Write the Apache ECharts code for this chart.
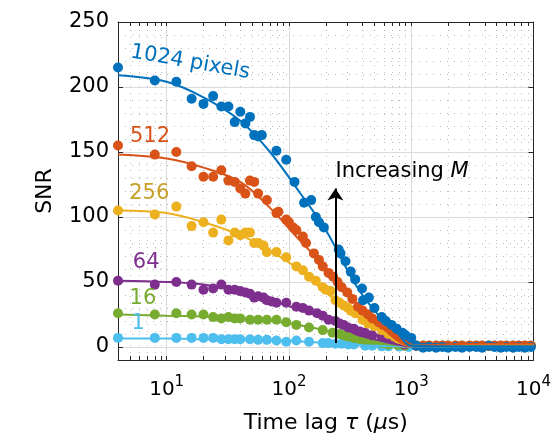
<!DOCTYPE html>
<html>
<head>
<meta charset="utf-8">
<script src="https://cdn.jsdelivr.net/npm/echarts@6/dist/echarts.min.js"></script>
<style>
html, body { margin: 0; padding: 0; background: #fff; }
#main { width: 554px; height: 443px; }
</style>
</head>
<body>
<div id="main"></div>
<script>
// tick / grid values
var xMajor = [10, 100, 1000, 10000];
var xMinor = [5, 6, 7, 8, 9, 20, 30, 40, 50, 60, 70, 80, 90, 200, 300, 400, 500, 600, 700, 800, 900,
	2000, 3000, 4000, 5000, 6000, 7000, 8000, 9000];
var yMajor = [0, 50, 100, 150, 200, 250];
var yMinor = [10, 20, 30, 40, 60, 70, 80, 90, 110, 120, 130, 140, 160, 170, 180, 190, 210, 220, 230, 240];

// measured points [tau (us), SNR]
var pts1024 = [[4,215],[8,205],[12,204],[16,191],[20,187],[24,193],[28,185],[32,185],[36,173],[40,181],
	[44,172],[48,177],[52,163],[56,162],[60,163],[79,151],[95,144],[111,127],[133,111],[152,113],[166,100],
	[176,96],[193,92],[255,75],[264,72],[290,66],[320,58],[348,52],[396,45],[404,36],[450,38],[500,30],
	[574,23],[620,20],[690,17],[760,14],[847,11],[900,9],[1000,7]];
var pts512 = [[4,155],[8,148],[12,150],[16,139],[20,131],[24,131],[28,136],[32,128],[36,127],[40,122],
	[44,118],[48,128],[52,127],[56,118],[66,113],[79,103],[82,104],[95,98],[100,96],[108,92],[115,90],
	[130,85],[138,80],[160,72],[176,67],[189,62],[211,57],[230,54],[250,50],[270,46],[300,42],[330,37],
	[367,31],[400,28],[444,25],[480,22],[540,19],[590,17],[640,15],[700,12],[773,8],[850,6],[930,3]];
var pts256 = [[4,105],[8,102],[12,108],[16,93],[20,96],[24,88],[28,98],[32,82],[36,88],[40,86],[44,88],
	[48,88],[52,80],[56,80],[62,78],[66,73],[79,73],[95,69],[115,62],[130,59],[146,54],[166,51],[189,46],
	[200,44],[219,43],[240,36],[260,34],[280,32],[305,30],[320,28],[348,26],[400,21],[444,18],[500,16],
	[574,13],[650,10],[732,8],[800,5],[881,3]];
var pts64 = [[4,51],[8,48],[12,50],[16,48],[20,44],[24,45],[28,48],[32,44],[36,44],[40,43],[44,42],
	[48,41],[52,38],[56,39],[62,38],[66,36],[72,35],[79,34],[95,34],[115,31],[130,30],[146,28],[170,26],
	[189,24],[211,21],[240,20],[260,18],[280,17],[305,15],[340,14],[380,12],[420,11],[480,9],[574,8],
	[650,6],[773,4],[880,2]];
var pts16 = [[4,26],[8,25],[12,26],[16,25],[20,25],[24,23],[28,22],[32,23],[36,22],[40,22],[48,21],
	[56,21],[66,21],[79,21],[95,19],[115,17],[146,15],[189,13],[227,11],[260,10],[280,9],[305,8],
	[340,7],[380,6],[420,5],[480,4],[574,3],[650,2],[773,1.5],[880,1]];
var pts1 = [[4,7],[8,7],[12,7],[16,7],[20,7],[24,7],[28,6],[32,6],[36,6],[40,6],[48,6],[56,5.5],
	[66,5.5],[79,5],[95,4],[115,5],[146,4],[189,3],[210,3],[240,2.5],[270,2.5],[305,2],[340,2],
	[420,1],[480,1],[574,0.5],[650,0.5],[800,0.3],[950,0]];

// flat tail beyond 1 ms
var tailTau = [1100, 1250, 1400, 1600, 1800, 2000, 2300, 2600, 3000, 3400, 3800, 4300, 4800, 5400,
	6000, 6800, 7600, 8500, 9500];
var tail1024 = [1, -0.5, 0, -0.5, 0, -0.5, 0, -0.5, 0, 0, -0.5, 1, 0, -0.5, 0, -0.5, 0, -0.5, 0];
var tailOther = [1, 1, 1, 1, 1, 1, 1, 1, 1, 1, 1, 1, 1, 1, 1, 1, 1, 1, 1];

// fitted curves
var fitTau = [4, 10, 20, 40, 70, 120, 200, 350, 500, 770, 1000, 3000, 10000];
var fit1024 = [209, 204, 192, 174, 150, 120, 90, 48, 28, 11, 1, 0.5, 0.5];
var fit512 = [148, 145, 138, 127, 107, 83, 61, 34, 21, 5, 1, 2.5, 2.5];
var fit256 = [105, 103, 96, 86, 74, 60, 42, 24, 15, 4, 1, 1.5, 1.5];
var fit64 = [51, 50, 48, 43, 36, 29, 22, 10, 6, 2, 0.5, 1, 1];
var fit16 = [25, 24, 23.5, 22, 20, 17, 12.5, 5, 3, 1.5, 0.5, 0.8, 0.8];
var fit1 = [6.5, 6.5, 6, 5.5, 5, 4.5, 3, 1.5, 1, 0.5, 0.3, 0.5, 0.5];

var groups = [
	{ name: '1', pts: pts1, tail: tailOther, fit: fit1, color: '#4DBEEE', lab: [5.85, 18] },
	{ name: '16', pts: pts16, tail: tailOther, fit: fit16, color: '#77AC30', lab: [6.4, 37] },
	{ name: '64', pts: pts64, tail: tailOther, fit: fit64, color: '#7E2F8E', lab: [6.8, 65] },
	{ name: '256', pts: pts256, tail: tailOther, fit: fit256, color: '#EDB120', labColor: '#C9A02A', lab: [7.2, 118] },
	{ name: '512', pts: pts512, tail: tailOther, fit: fit512, color: '#D95319', lab: [7.3, 162] },
	{ name: '1024 pixels', pts: pts1024, tail: tail1024, fit: fit1024, color: '#0072BD', lab: [15.6, 219], rot: -10 }
];

var font = 'DejaVu Sans, Verdana, sans-serif';
var ink = '#262626';

var gridLines = [];
xMajor.forEach(function (v) { gridLines.push({ xAxis: v, lineStyle: { color: '#dadada', type: 'solid' } }); });
xMinor.forEach(function (v) { gridLines.push({ xAxis: v, lineStyle: { color: '#bdbdbd', type: [1, 6] } }); });
yMajor.forEach(function (v) { gridLines.push({ yAxis: v, lineStyle: { color: '#dadada', type: 'solid' } }); });
yMinor.forEach(function (v) { gridLines.push({ yAxis: v, lineStyle: { color: '#bdbdbd', type: [1, 6] } }); });

var series = [{
	type: 'line', data: [], silent: true,
	markLine: { silent: true, symbol: 'none', z: 0, label: { show: false }, lineStyle: { width: 1 }, data: gridLines, animation: false }
}];

groups.forEach(function (g) {
	var data = g.pts.concat(tailTau.map(function (t, i) { return [t, g.tail[i]]; }));
	series.push({
		name: g.name, type: 'scatter', symbol: 'circle', symbolSize: 10, data: data,
		itemStyle: { color: g.color, opacity: 1 },
		markPoint: {
			symbol: 'circle', symbolSize: 0, silent: true,
			data: [{ coord: g.lab, name: g.name }],
			label: { show: true, position: 'inside', formatter: '{b}', color: g.labColor || g.color, fontSize: 21, fontFamily: font, rotate: g.rot || 0 }
		}
	});
	series.push({
		type: 'line', smooth: 0.35, showSymbol: false, silent: true,
		data: fitTau.map(function (t, i) { return [t, g.fit[i]]; }),
		lineStyle: { color: g.color, width: 2 }
	});
});

// arrow "Increasing M"
var arrowTau = 240;
series.push({
	type: 'line', data: [], silent: true, z: 10,
	markLine: {
		silent: true, z: 10, symbol: ['none', 'arrow'], symbolSize: 12, animation: false,
		lineStyle: { color: '#000', width: 2, type: 'solid' }, label: { show: false },
		data: [[{ coord: [arrowTau, 3] }, { coord: [arrowTau, 122] }]]
	},
	markPoint: {
		symbol: 'circle', symbolSize: 0, silent: true, z: 10,
		data: [{ coord: [arrowTau, 135], name: 'Increasing' }],
		label: {
			show: true, position: 'right', distance: 0, formatter: '{n|Increasing }{i|M}',
			rich: {
				n: { fontSize: 21, fontFamily: font, color: '#000' },
				i: { fontSize: 21, fontFamily: font, color: '#000', fontStyle: 'italic' }
			}
		}
	}
});

var chart = echarts.init(document.getElementById('main'));
chart.setOption({
	backgroundColor: '#fff',
	animation: false,
	grid: { left: 118, right: 14, top: 22, bottom: 83, containLabel: false },
	xAxis: [{
		type: 'log', logBase: 10, min: 4, max: 10000, position: 'bottom',
		axisLine: { show: true, onZero: false, lineStyle: { color: ink, width: 1 } },
		axisTick: { show: true, inside: true, length: 4, customValues: xMajor.concat(xMinor), lineStyle: { color: ink } },
		axisLabel: {
			customValues: xMajor, margin: 15,
			formatter: function (v) { return '{b|10}{s|' + Math.round(Math.log10(v)) + '}'; },
			rich: {
				b: { fontSize: 20, fontFamily: font, color: '#000', lineHeight: 30 },
				s: { fontSize: 15, fontFamily: font, color: '#000', verticalAlign: 'top', lineHeight: 15 }
			}
		},
		splitLine: { show: false }, minorTick: { show: false },
		name: '{n|Time lag }{i|τ}{n| (}{i|μ}{n|s)}', nameLocation: 'middle', nameGap: 52,
		nameTextStyle: {
			rich: {
				n: { fontSize: 22, fontFamily: font, color: '#000' },
				i: { fontSize: 22, fontFamily: font, color: '#000', fontStyle: 'italic' }
			}
		}
	}, {
		type: 'log', logBase: 10, min: 4, max: 10000, position: 'top',
		axisLine: { show: true, onZero: false, lineStyle: { color: ink, width: 1 } },
		axisTick: { show: true, inside: true, length: 4, customValues: xMajor.concat(xMinor), lineStyle: { color: ink } },
		axisLabel: { show: false }, splitLine: { show: false }
	}],
	yAxis: [{
		type: 'value', min: -10, max: 250, position: 'left',
		axisLine: { show: true, onZero: false, lineStyle: { color: ink, width: 1 } },
		axisTick: { show: true, inside: true, length: 5, customValues: yMajor, lineStyle: { color: ink } },
		axisLabel: { customValues: yMajor, margin: 9, fontSize: 21, fontFamily: font, color: '#000' },
		splitLine: { show: false },
		name: 'SNR', nameLocation: 'middle', nameGap: 62, nameRotate: 90,
		nameTextStyle: { fontSize: 22, fontFamily: font, color: '#000' }
	}, {
		type: 'value', min: -10, max: 250, position: 'right',
		axisLine: { show: true, onZero: false, lineStyle: { color: ink, width: 1 } },
		axisTick: { show: true, inside: true, length: 5, customValues: yMajor, lineStyle: { color: ink } },
		axisLabel: { show: false }, splitLine: { show: false }
	}],
	series: series
});
</script>
</body>
</html>
